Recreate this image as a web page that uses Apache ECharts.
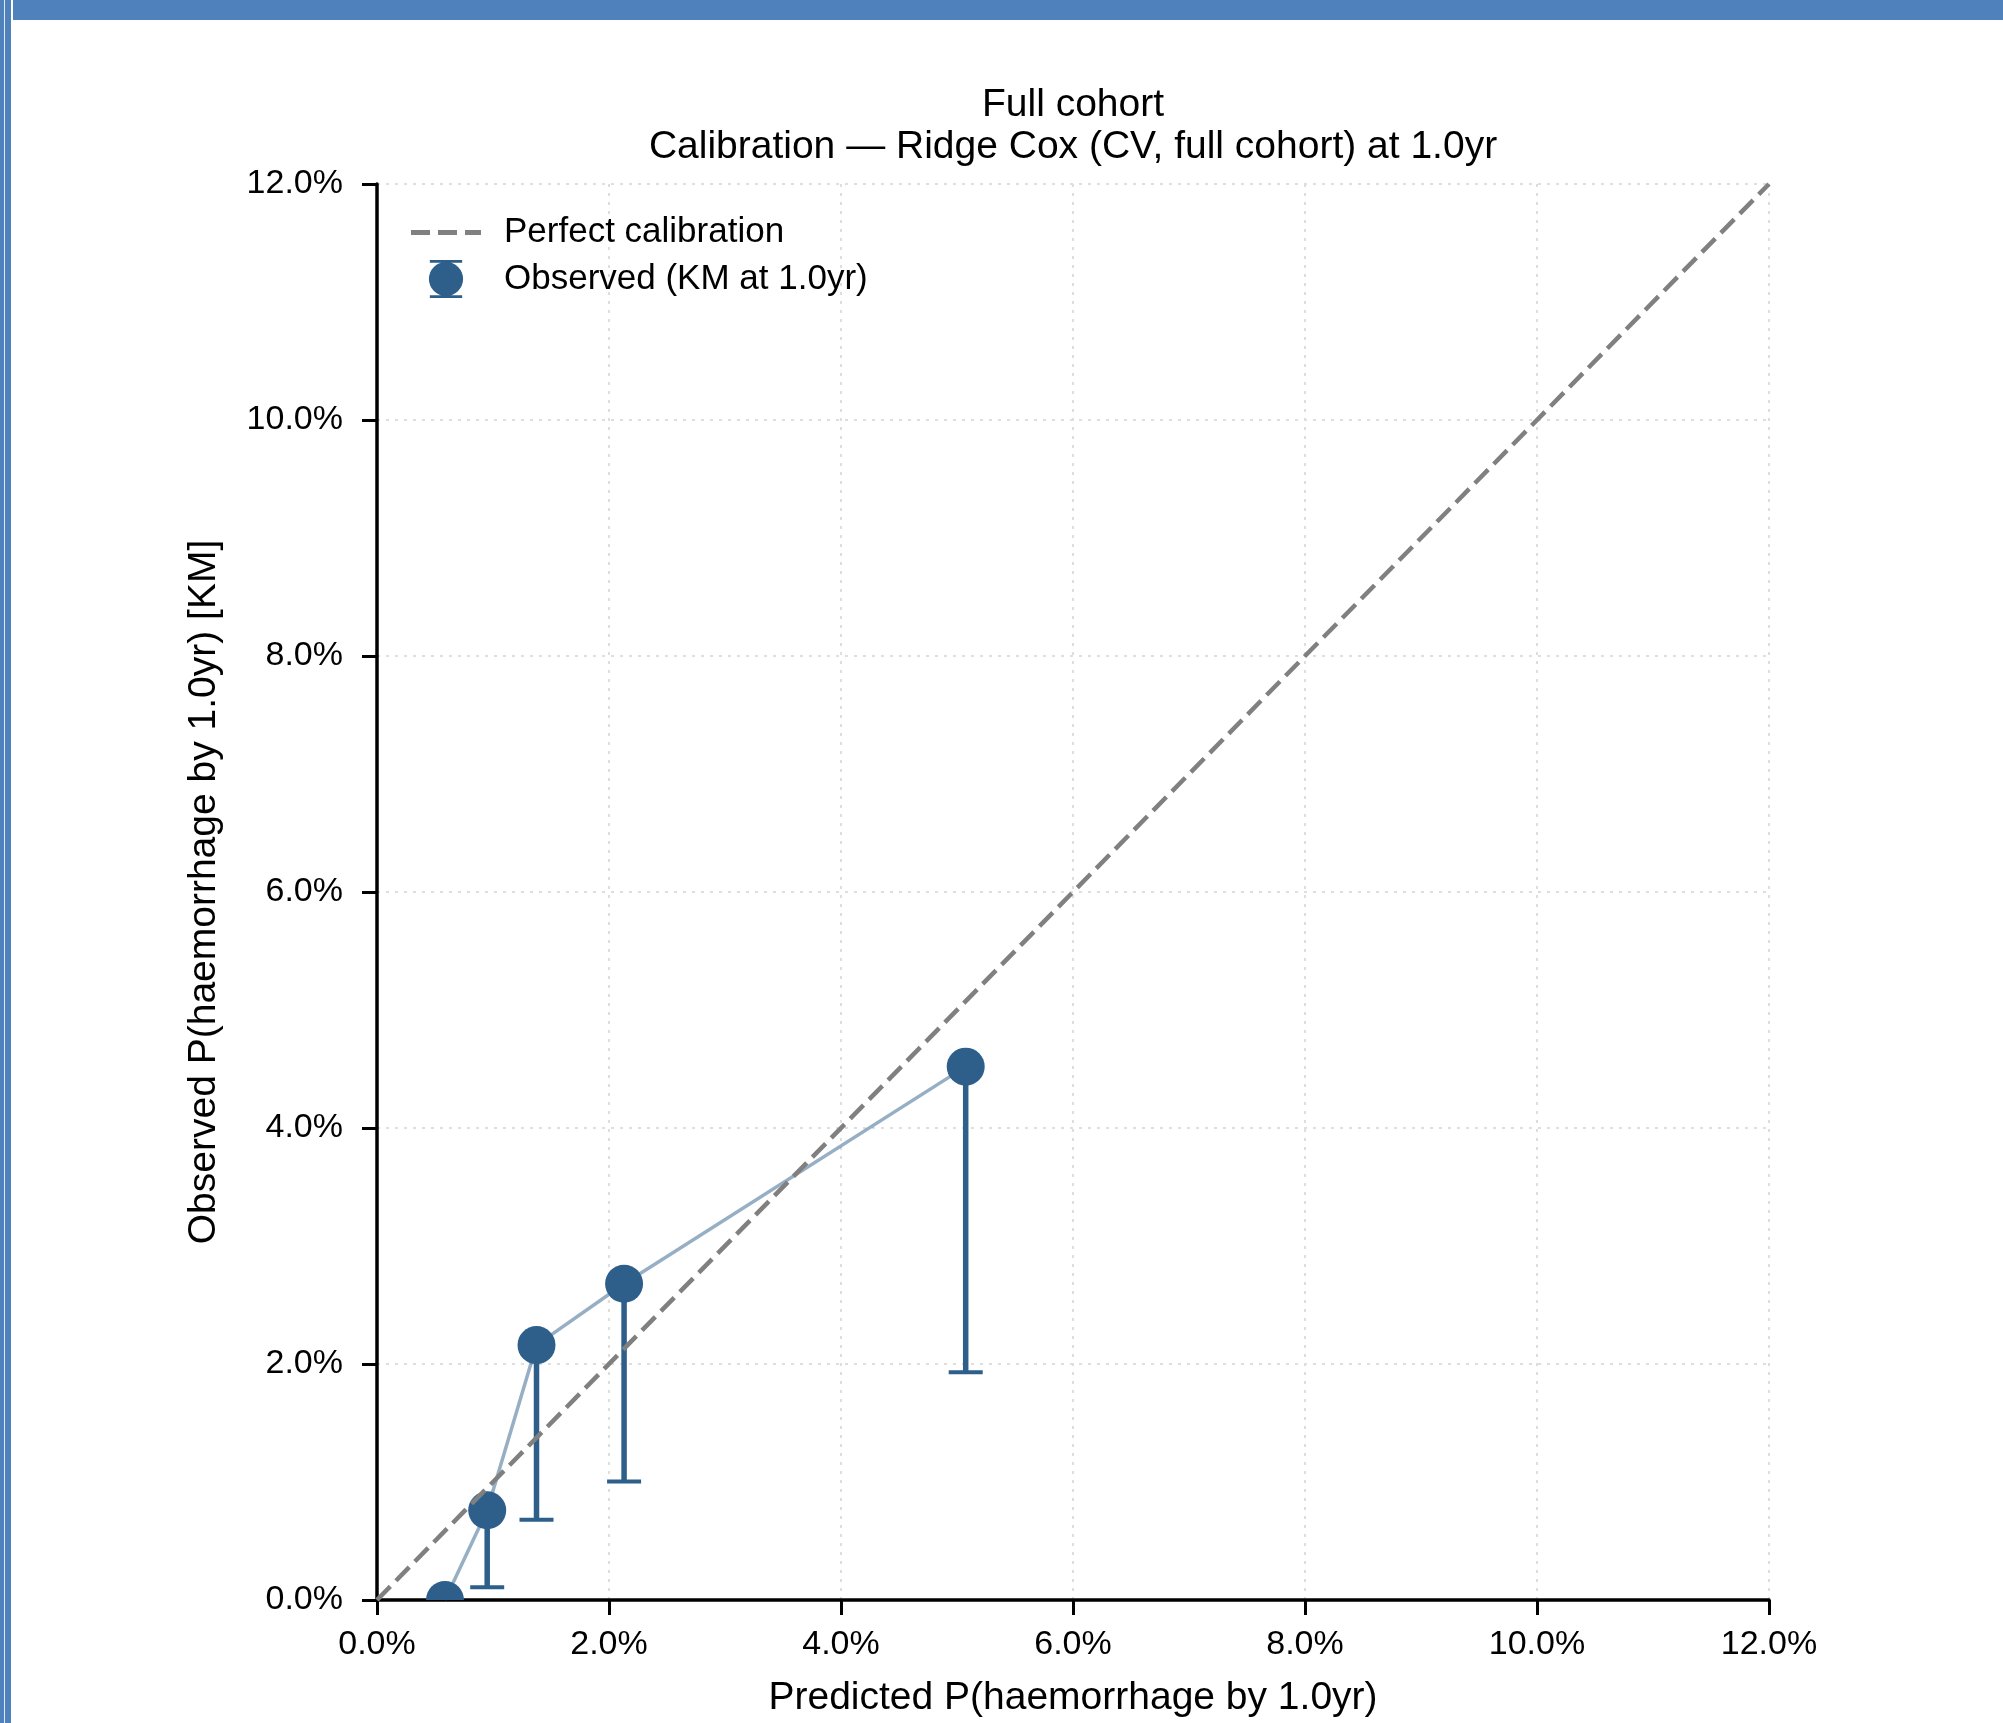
<!DOCTYPE html>
<html>
<head>
<meta charset="utf-8">
<title>Calibration — Ridge Cox</title>
<script src="https://cdn.jsdelivr.net/npm/echarts@6/dist/echarts.min.js"></script>
<style>
  html, body { margin: 0; padding: 0; background: #fff; }
  #chart { position: absolute; left: 0; top: 0; width: 2003px; height: 1723px; }
  .frameTop { position: absolute; left: 13px; top: 0; width: 1990px; height: 20px; background: #4f81bd; z-index: 5; }
  .frameLeft { position: absolute; left: 0; top: 0; width: 11px; height: 1723px; background: #4f81bd; z-index: 5; }
  .frameLeft::after { content: ''; position: absolute; left: 4px; top: 0; width: 1px; height: 100%; background: #dfe8f3; }
</style>
</head>
<body>
<div class="frameLeft"></div>
<div class="frameTop"></div>
<div id="chart"></div>
<script>
// predicted vs observed risk (%), per risk group
const predicted = [0.586, 0.95, 1.375, 2.13, 5.075];
const observed = [0.0, 0.76, 2.16, 2.68, 4.52];
const observedLow = [0.0, 0.107, 0.68, 1.005, 1.93];

// reference line
const diagX = [0, 12];
const diagY = [0, 12];

// axis ticks
const axisMin = 0;
const axisMax = 12;
const axisStep = 2;

const blue = '#2d5f8a';
const grey = '#808080';
const font = '"Liberation Sans", Arial, Helvetica, sans-serif';

const myChart = echarts.init(document.getElementById('chart'));

const pointData = predicted.map((x, i) => [x, observed[i]]);
const errData = predicted.map((x, i) => [x, observedLow[i], observed[i]]);
const diagData = diagX.map((x, i) => [x, diagY[i]]);

const pct = (v) => v.toFixed(1) + '%';

// clip marks to the plot area (the first point sits on the x axis)
const plotClip = (params) => ({
  type: 'rect',
  shape: {
    x: params.coordSys.x,
    y: params.coordSys.y,
    width: params.coordSys.width,
    height: params.coordSys.height,
  },
});

const axisCommon = {
  type: 'value',
  min: axisMin,
  max: axisMax,
  interval: axisStep,
  nameLocation: 'middle',
  nameTextStyle: { fontFamily: font, fontSize: 39, color: '#000' },
  axisLine: { show: true, lineStyle: { color: '#000', width: 3.5 } },
  axisTick: { show: true, inside: false, length: 15, lineStyle: { color: '#000', width: 3 } },
  axisLabel: { formatter: pct, fontFamily: font, fontSize: 34, color: '#000' },
  splitLine: { show: true, lineStyle: { color: '#dedede', width: 2, type: [3, 6] } },
};

const option = {
  animation: false,
  backgroundColor: '#fff',
  title: [
    {
      text: 'Full cohort',
      left: 1068,
      top: 80,
      textAlign: 'center',
      textStyle: { fontFamily: font, fontSize: 39, fontWeight: 'normal', color: '#000', lineHeight: 40 },
    },
    {
      text: 'Calibration — Ridge Cox (CV, full cohort) at 1.0yr',
      left: 1068,
      top: 122,
      textAlign: 'center',
      textStyle: { fontFamily: font, fontSize: 39, fontWeight: 'normal', color: '#000', lineHeight: 40 },
    },
  ],
  grid: { left: 377, right: 234, top: 184, bottom: 122, containLabel: false },
  legend: {
    orient: 'vertical',
    left: 406,
    top: 210,
    itemWidth: 70,
    itemHeight: 38,
    itemGap: 10,
    textStyle: { fontFamily: font, fontSize: 35, color: '#000', padding: [0, 0, 0, 18] },
    data: [
      {
        name: 'Perfect calibration',
        icon: 'path://M0 17H19V22H0Z M27 17H46V22H27Z M54 17H70V22H54Z',
        itemStyle: { color: grey },
      },
      {
        name: 'Observed (KM at 1.0yr)',
        icon: 'path://M3 0H37V3H3Z M3 37H37V40H3Z M20 2A18 18 0 1 1 20 38A18 18 0 1 1 20 2Z',
        itemStyle: { color: blue },
      },
    ],
  },
  xAxis: Object.assign({}, axisCommon, {
    name: 'Predicted P(haemorrhage by 1.0yr)',
    nameGap: 79,
    axisLabel: Object.assign({}, axisCommon.axisLabel, { margin: 28 }),
  }),
  yAxis: Object.assign({}, axisCommon, {
    name: 'Observed P(haemorrhage by 1.0yr) [KM]',
    nameGap: 153,
    axisLabel: Object.assign({}, axisCommon.axisLabel, { margin: 34 }),
  }),
  series: [
    {
      name: 'trend',
      type: 'line',
      data: pointData,
      showSymbol: false,
      symbol: 'none',
      lineStyle: { color: blue, opacity: 0.5, width: 3.5 },
      z: 2,
    },
    {
      name: 'errorbar',
      type: 'custom',
      data: errData,
      z: 3,
      renderItem: function (params, api) {
        const x = api.value(0);
        const lo = api.value(1);
        const hi = api.value(2);
        if (lo === hi) return { type: 'group', children: [] };
        const pLo = api.coord([x, lo]);
        const pHi = api.coord([x, hi]);
        const half = 17;
        return {
          type: 'group',
          children: [
            {
              type: 'line',
              shape: { x1: pLo[0], y1: pLo[1], x2: pHi[0], y2: pHi[1] },
              style: { stroke: blue, lineWidth: 5.5 },
            },
            {
              type: 'line',
              shape: { x1: pLo[0] - half, y1: pLo[1], x2: pLo[0] + half, y2: pLo[1] },
              style: { stroke: blue, lineWidth: 4 },
            },
          ],
        };
      },
    },
    {
      name: 'Observed (KM at 1.0yr)',
      type: 'custom',
      data: pointData,
      itemStyle: { color: blue },
      z: 4,
      renderItem: function (params, api) {
        const p = api.coord([api.value(0), api.value(1)]);
        return {
          type: 'circle',
          shape: { cx: p[0], cy: p[1], r: 19 },
          style: { fill: blue },
          clipPath: plotClip(params),
        };
      },
    },
    {
      name: 'Perfect calibration',
      type: 'line',
      data: diagData,
      symbol: 'none',
      showSymbol: false,
      itemStyle: { color: grey },
      lineStyle: { color: grey, width: 4.5, type: [19, 8] },
      z: 5,
    },
  ],
};

myChart.setOption(option);
</script>
</body>
</html>
